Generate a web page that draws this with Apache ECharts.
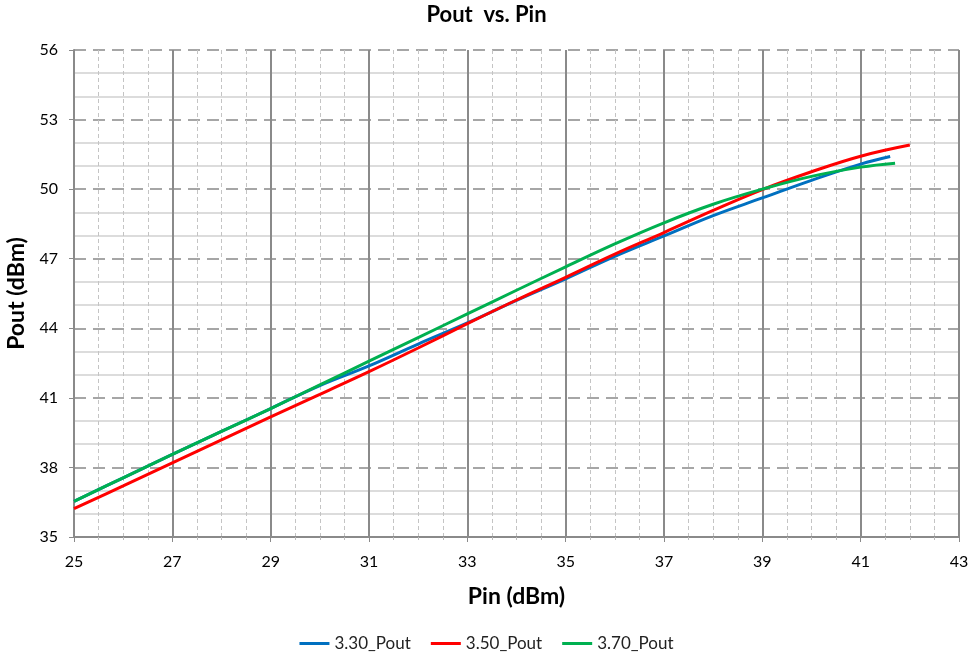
<!DOCTYPE html>
<html>
<head>
<meta charset="utf-8">
<script src="https://cdn.jsdelivr.net/npm/echarts@6/dist/echarts.min.js"></script>
<style>html,body{margin:0;padding:0;background:#fff}#c{width:973px;height:656px}</style>
</head>
<body>
<div id="c"></div>
<script>
var titleText = 'Pout  vs. Pin';
var xName = 'Pin (dBm)';
var yName = 'Pout (dBm)';
var seriesNames = ['3.30_Pout', '3.50_Pout', '3.70_Pout'];
var seriesColors = ['#0070C0', '#FF0000', '#00B050'];

var pin330 = [25, 26, 27, 28, 29, 30, 31, 32, 33, 34, 35, 36, 37, 38, 39, 40, 41, 41.6];
var pout330 = [36.54, 37.55, 38.56, 39.55, 40.54, 41.53, 42.38, 43.32, 44.23, 45.2, 46.13, 47.1, 47.98, 48.86, 49.62, 50.38, 51.08, 51.41];

var pin350 = [25, 26, 27, 28, 29, 30, 31, 32, 33, 34, 35, 36, 37, 38, 39, 40, 41, 42];
var pout350 = [36.22, 37.2, 38.2, 39.19, 40.18, 41.15, 42.13, 43.15, 44.2, 45.22, 46.2, 47.2, 48.13, 49.08, 49.98, 50.75, 51.42, 51.9];

var pin370 = [25, 26, 27, 28, 29, 30, 31, 32, 33, 34, 35, 36, 37, 38, 39, 40, 41, 41.7];
var pout370 = [36.54, 37.55, 38.56, 39.55, 40.54, 41.56, 42.58, 43.6, 44.62, 45.64, 46.65, 47.64, 48.55, 49.35, 50.0, 50.55, 50.95, 51.12];

var xMin = 25, xMax = 43, xStep = 2;
var yMin = 35, yMax = 56, yStep = 3;

function pairs(xs, ys) { return xs.map(function (x, i) { return [x, ys[i]]; }); }
var seriesData = [pairs(pin330, pout330), pairs(pin350, pout350), pairs(pin370, pout370)];

var font = 'Lato, "Open Sans", sans-serif';
var chart = echarts.init(document.getElementById('c'), null, {renderer: 'canvas'});
chart.setOption({
  animation: false,
  backgroundColor: '#ffffff',
  title: {
    text: titleText, left: 'center', top: -1,
    textStyle: {fontFamily: font, fontSize: 22, fontWeight: 'bold', color: '#000'}
  },
  legend: {
    bottom: -1, left: 'center', itemGap: 20, itemWidth: 30, itemHeight: 3, icon: 'rect',
    textStyle: {fontFamily: font, fontSize: 17, color: '#222'},
    data: seriesNames
  },
  grid: {left: 74, right: 14, top: 50, bottom: 119, containLabel: false, outerBoundsMode: 'none'},
  xAxis: {
    type: 'value', min: xMin, max: xMax, interval: xStep,
    name: xName, nameLocation: 'middle', nameGap: 48,
    nameTextStyle: {fontFamily: font, fontSize: 23, fontWeight: 'bold', color: '#000'},
    axisLine: {show: true, onZero: false, lineStyle: {color: '#8a8a8a', width: 2}},
    axisTick: {show: true, length: 5, lineStyle: {color: '#8a8a8a', width: 1}},
    minorTick: {show: true, splitNumber: 4, length: 3, lineStyle: {color: '#bbbbbb'}},
    axisLabel: {fontFamily: font, fontSize: 16, color: '#000', margin: 17},
    splitLine: {show: true, lineStyle: {color: '#8a8a8a', width: 2, type: 'solid'}},
    minorSplitLine: {show: true, lineStyle: {color: '#c4c4c4', width: 1, type: [4, 3]}}
  },
  yAxis: {
    type: 'value', min: yMin, max: yMax, interval: yStep,
    name: yName, nameLocation: 'middle', nameGap: 42, nameRotate: 90,
    nameTextStyle: {fontFamily: font, fontSize: 23, fontWeight: 'bold', color: '#000'},
    axisLine: {show: true, lineStyle: {color: '#8a8a8a', width: 2}},
    axisTick: {show: true, length: 5, lineStyle: {color: '#8a8a8a', width: 1}},
    minorTick: {show: false, splitNumber: 3},
    axisLabel: {fontFamily: font, fontSize: 16, color: '#000', margin: 16},
    splitLine: {show: true, lineStyle: {color: '#a6a6a6', width: 2, type: [12, 7]}},
    minorSplitLine: {show: true, lineStyle: {color: '#d0d0d0', width: 1.5, type: 'solid'}}
  },
  series: seriesNames.map(function (n, i) {
    return {
      name: n, type: 'line', data: seriesData[i], smooth: 0.4,
      symbol: 'none', showSymbol: false,
      lineStyle: {color: seriesColors[i], width: 3},
      itemStyle: {color: seriesColors[i]},
      z: i === 1 ? 3 : (i === 2 ? 4 : 2)
    };
  })
});
</script>
</body>
</html>
